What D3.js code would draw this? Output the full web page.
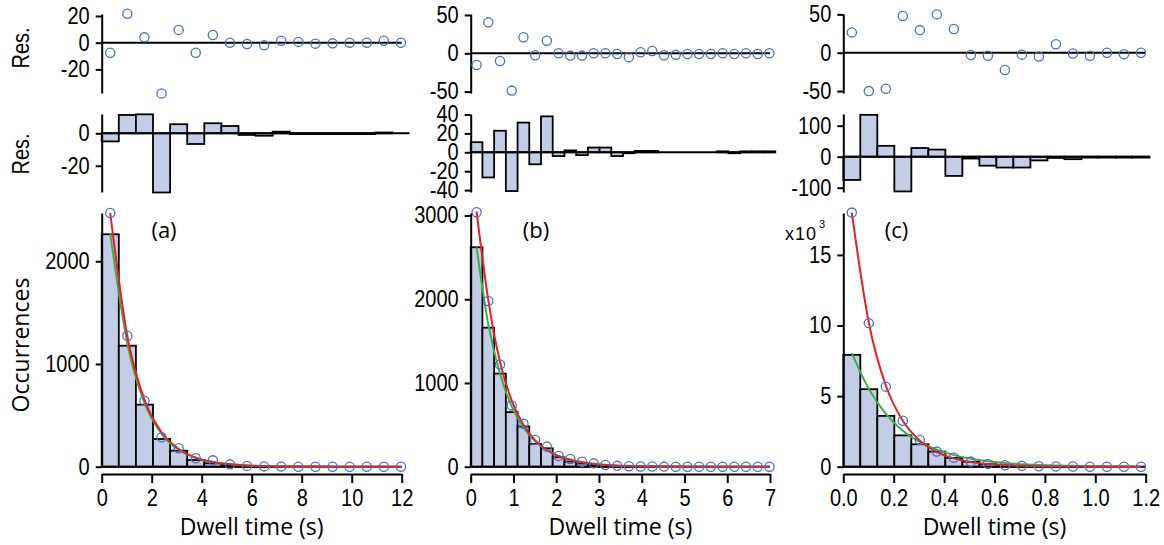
<!DOCTYPE html>
<html>
<head>
<meta charset="utf-8">
<script src="https://cdn.jsdelivr.net/npm/d3@7"></script>
<style>
  body { margin: 0; background: #fff; }
  .tick text { font-family: "Liberation Sans", Arial, sans-serif; font-size: 20px; fill: #000; }
  .tick line, .domain { stroke: #000; stroke-width: 2px; }
  .title { font-family: "Open Sans", sans-serif; fill: #000; }
</style>
</head>
<body>
<svg id="fig" width="1164" height="545"></svg>
<script>
// ---- panel (a) : bin width 0.684 s, 18 bins
const aBinWidth = 0.684;
const aCounts   = [2263, 1178, 604, 270, 156, 65, 33, 14, 5, 2, 1, 0, 0, 0, 0, 0, 0, 0];
const aCircles  = [2470, 1275, 643, 286, 179, 82, 62, 23, 8, 3, 1, 0, 0, 0, 0, 0, 0, 0];
const aRedFit   = [2470, 1270, 650, 335, 172, 88, 45, 23, 12, 6, 3, 1.6, 0.8, 0.4, 0.2, 0.1, 0.05, 0.03];
const aGreenFit = [2270, 1200, 620, 320, 165, 86, 44, 23, 12, 6, 3, 1.6, 0.8, 0.4, 0.2, 0.1, 0.05, 0.03];
const aResCircles = [-7.5, 21.7, 4, -38, 9.6, -7.5, 5.8, 0, -1, -2, 1.5, 0.6, -0.7, -0.5, 0, 0, 1.5, 0];
const aResBars    = [-5, 11.3, 11.7, -36.5, 5.6, -6.6, 6.2, 4.5, -1, -1.5, 1, -0.5, -0.5, -0.5, -0.5, -0.5, 0.5, 0];

// ---- panel (b) : bin width 0.274 s, 26 bins
const bBinWidth = 0.274;
const bCounts   = [2621, 1660, 1112, 652, 480, 272, 220, 113, 60, 38, 20, 10, 5, 3, 2, 1, 0, 0, 0, 0, 0, 0, 0, 0, 0, 0];
const bCircles  = [3040, 1980, 1220, 732, 512, 320, 240, 128, 92, 60, 40, 20, 10, 5, 3, 2, 1, 0, 0, 0, 0, 0, 0, 0, 0, 0];
const bRedFit   = [3050, 1990, 1250, 790, 500, 315, 200, 125, 79, 50, 31, 20, 12, 8, 5, 3, 2, 1.2, 0.8, 0.5, 0.3, 0.2, 0.1, 0.1, 0, 0];
const bGreenFit = [2620, 1700, 1110, 720, 470, 305, 200, 130, 85, 55, 36, 23, 15, 10, 6, 4, 3, 2, 1, 1, 0.5, 0.3, 0.2, 0.1, 0, 0];
const bResCircles = [-15.2, 40.4, -10, -48.7, 20.9, -2.6, 16.5, 0, -3, -3, 0, 0, -1, -5, 1.3, 3, -2.6, -2, -1, -1, -1, 0, -1, 0, -1, 0];
const bResBars    = [10.7, -26.6, 22.8, -41, 31.4, -12.7, 38, -4, 2, -3, 5, 5, -4, -1, 1.5, 1.5, 0, 0, 0, 0, 0, 1, -1, 1, 1, 1];

// ---- panel (c) : bin width 0.0675 s, 18 bins
const cBinWidth = 0.0675;
const cCounts   = [7920, 5490, 3600, 2220, 1590, 1070, 620, 350, 180, 100, 60, 30, 20, 10, 0, 0, 0, 0];
const cCircles  = [18000, 10170, 5670, 3260, 1890, 1070, 640, 360, 200, 100, 60, 30, 20, 10, 0, 0, 0, 0];
const cRedFit   = [18000, 10200, 5750, 3250, 1840, 1040, 590, 330, 190, 110, 60, 30, 20, 10, 6, 3, 2, 1];
const cGreenFit = [8040, 5500, 3750, 2550, 1750, 1200, 820, 560, 380, 260, 180, 120, 80, 60, 40, 30, 20, 10];
const cResCircles = [26.5, -50, -47, 48, 29.5, 50, 31, -3, -4, -22.5, -2.5, -5, 11, -1, -4, 0, -2, 0];
const cResBars    = [-75, 135, 35, -112, 28, 23, -62, -6, -29, -35, -35, -12, -4, -8, -3, -3, -3, -3];

// axis limits and ticks
const panelLabels = ['(a)', '(b)', '(c)'];
const xDomains = [[0, 12], [0, 7], [0, 1.2]];
const xTicks = [[0, 2, 4, 6, 8, 10, 12], [0, 1, 2, 3, 4, 5, 6, 7], [0, 0.2, 0.4, 0.6, 0.8, 1.0, 1.2]];
const res1Domains = [[-37.7, 21.5], [-51.8, 51.3], [-52.5, 50.5]];
const res1Ticks = [[-20, 0, 20], [-50, 0, 50], [-50, 0, 50]];
const res2Domains = [[-36.2, 11.9], [-42, 40.5], [-113.9, 137.7]];
const res2Ticks = [[-20, 0], [-40, -20, 0, 20, 40], [-100, 0, 100]];
const mainDomains = [[0, 2470], [0, 3030], [0, 17970]];
const mainTicks = [[0, 1000, 2000], [0, 1000, 2000, 3000], [0, 5000, 10000, 15000]];

const panels = [
  {bw: aBinWidth, counts: aCounts, circles: aCircles, red: aRedFit, green: aGreenFit, rc: aResCircles, rb: aResBars},
  {bw: bBinWidth, counts: bCounts, circles: bCircles, red: bRedFit, green: bGreenFit, rc: bResCircles, rb: bResBars},
  {bw: cBinWidth, counts: cCounts, circles: cCircles, red: cRedFit, green: cGreenFit, rc: cResCircles, rb: cResBars}
];

// layout
const colLeft = [101.7, 470.7, 843.3];
const colWidth = [300, 299.3, 302.4];
const rowRes1 = [93, 14];
const rowRes2 = [192, 114];
const rowMain = [466.7, 213];
const xAxisY = 474;
const labelX = [164, 536, 896.5];

const fillBar = '#c3cee6';
const blue = '#4b6fc4';
const red = '#ec1c24';
const green = '#3bb04a';

const svg = d3.select('#fig');
const fmt = d => String(d);
// tick digits in the figure are a bit taller than plain Arial
const stretch = sel => sel.selectAll('.tick text').attr('transform', 'scale(1,1.15)');

panels.forEach((p, k) => {
  const g = svg.append('g');
  const x = d3.scaleLinear().domain(xDomains[k]).range([colLeft[k], colLeft[k] + colWidth[k]]);
  const centers = p.counts.map((d, i) => (i + 0.5) * p.bw);
  const left = x.range()[0];

  // --- top residual panel (circles)
  const y1 = d3.scaleLinear().domain(res1Domains[k]).range(rowRes1);
  g.append('line')
    .attr('x1', left).attr('x2', x.range()[1])
    .attr('y1', y1(0)).attr('y2', y1(0))
    .attr('stroke', '#000').attr('stroke-width', 2);
  g.append('g').attr('transform', `translate(${left},0)`)
    .call(d3.axisLeft(y1).tickValues(res1Ticks[k]).tickSize(6).tickSizeOuter(0).tickPadding(6).tickFormat(fmt))
    .call(stretch);
  g.selectAll('circle.r1').data(p.rc).enter().append('circle')
    .attr('cx', (d, i) => x(centers[i])).attr('cy', d => y1(d)).attr('r', 4.6)
    .attr('fill', 'none').attr('stroke', blue).attr('stroke-width', 1.3);

  // --- residual bars
  const y2 = d3.scaleLinear().domain(res2Domains[k]).range(rowRes2);
  g.selectAll('rect.r2').data(p.rb).enter().append('rect')
    .attr('x', (d, i) => x(i * p.bw)).attr('width', x(p.bw) - x(0))
    .attr('y', d => y2(Math.max(0, d))).attr('height', d => Math.abs(y2(d) - y2(0)))
    .attr('fill', fillBar).attr('stroke', '#000').attr('stroke-width', 1.8);
  g.append('line')
    .attr('x1', left).attr('x2', x(p.rb.length * p.bw))
    .attr('y1', y2(0)).attr('y2', y2(0))
    .attr('stroke', '#000').attr('stroke-width', 2);
  g.append('g').attr('transform', `translate(${left},0)`)
    .call(d3.axisLeft(y2).tickValues(res2Ticks[k]).tickSize(6).tickSizeOuter(0).tickPadding(6).tickFormat(fmt))
    .call(stretch);

  // --- main histogram
  const y = d3.scaleLinear().domain(mainDomains[k]).range(rowMain);
  g.selectAll('rect.h').data(p.counts).enter().append('rect')
    .attr('x', (d, i) => x(i * p.bw)).attr('width', x(p.bw) - x(0))
    .attr('y', d => y(d)).attr('height', d => y(0) - y(d))
    .attr('fill', fillBar).attr('stroke', '#000').attr('stroke-width', 1.8);
  g.append('line')
    .attr('x1', left).attr('x2', x.range()[1])
    .attr('y1', y(0)).attr('y2', y(0))
    .attr('stroke', '#000').attr('stroke-width', 2);

  const line = vals => d3.line()
    .x((d, i) => x(centers[i])).y(d => y(d))
    .curve(d3.curveMonotoneX)(vals);
  g.append('path').attr('d', line(p.green)).attr('fill', 'none').attr('stroke', green).attr('stroke-width', 2);
  g.append('path').attr('d', line(p.red)).attr('fill', 'none').attr('stroke', red).attr('stroke-width', 2);

  g.selectAll('circle.m').data(p.circles).enter().append('circle')
    .attr('cx', (d, i) => x(centers[i])).attr('cy', d => y(d)).attr('r', 4.6)
    .attr('fill', 'none').attr('stroke', blue).attr('stroke-width', 1.3);

  g.append('g').attr('transform', `translate(${left},0)`)
    .call(d3.axisLeft(y).tickValues(mainTicks[k]).tickSize(6).tickSizeOuter(0).tickPadding(6)
      .tickFormat(k === 2 ? d => d / 1000 : fmt))
    .call(stretch);

  g.append('g').attr('transform', `translate(0,${xAxisY})`)
    .call(d3.axisBottom(x).tickValues(xTicks[k]).tickSize(9).tickSizeOuter(0).tickPadding(4.5)
      .tickFormat(k === 2 ? d3.format('.1f') : fmt))
    .call(stretch);

  g.append('text').attr('class', 'title')
    .attr('x', (x.range()[0] + x.range()[1]) / 2).attr('y', 535)
    .attr('text-anchor', 'middle').attr('font-size', 23)
    .text('Dwell time (s)');

  g.append('text').attr('class', 'title')
    .attr('x', labelX[k]).attr('y', 238)
    .attr('text-anchor', 'middle').attr('font-size', 22)
    .text(panelLabels[k]);
});

// y titles
svg.selectAll('text.res').data([48, 154]).enter().append('text')
  .attr('transform', d => `translate(29,${d}) rotate(-90) scale(1,1.2)`)
  .attr('text-anchor', 'middle')
  .style('font-family', '"Liberation Sans", Arial, sans-serif').style('font-size', '20px')
  .text('Res.');
svg.append('text').attr('class', 'title')
  .attr('transform', 'translate(29,345) rotate(-90)')
  .attr('text-anchor', 'middle').attr('font-size', 23)
  .text('Occurrences');

// x10^3 multiplier for panel (c)
svg.append('text')
  .attr('x', 785).attr('y', 240)
  .style('font-family', '"Liberation Sans", Arial, sans-serif').style('font-size', '18px')
  .style('letter-spacing', '1px')
  .text('x10');
svg.append('text')
  .attr('x', 819).attr('y', 228)
  .style('font-family', '"Liberation Sans", Arial, sans-serif').style('font-size', '11px')
  .text('3');
</script>
</body>
</html>
